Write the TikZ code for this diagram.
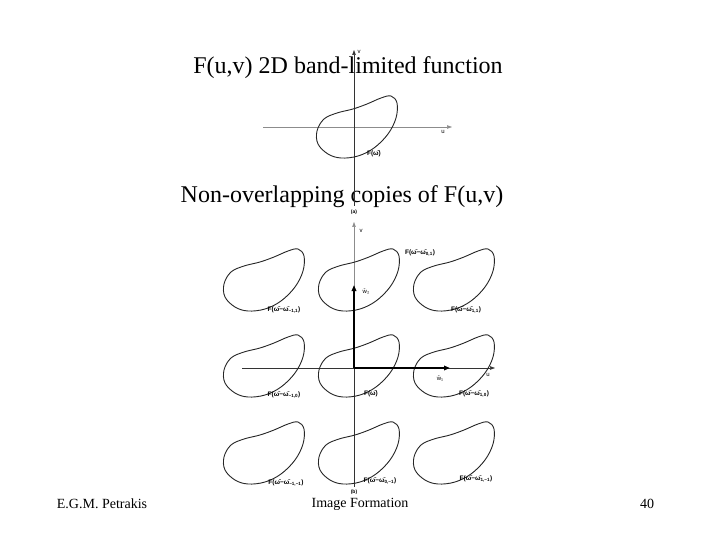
\documentclass[tikz,border=0pt]{standalone}
\usepackage{fontspec}
\setmainfont{Liberation Serif}
\setsansfont{Liberation Sans}
\usetikzlibrary{arrows.meta,positioning}
\tikzset{
  axis/.style={-{Triangle[length=5pt,width=3.5pt]},line width=0.6pt,#1},
  axis/.default={black!80},
  lattvec/.style={-{Triangle[length=6pt,width=4.5pt]},line width=2pt,black},
  slidetext/.style={font=\fontsize{24}{28}\selectfont,inner sep=0pt},
  footer/.style={font=\fontsize{14}{16}\selectfont,inner sep=0pt},
  speclabel/.style={font=\sffamily\bfseries\fontsize{6.5}{7}\selectfont,inner sep=0.5pt},
  axlabel/.style={font=\sffamily\fontsize{6}{7}\selectfont,inner sep=0.5pt},
  figcap/.style={font=\sffamily\bfseries\fontsize{5}{6}\selectfont,inner sep=0.3pt},
  spectrum/.pic={
    \draw[line width=0.9pt,black!85] plot[smooth cycle,tension=0.6] coordinates {
      (34,-31) (40,-24) (39,-9) (31,7) (17,21) (1,29) (-16,31) (-29,27)
      (-39,17) (-40,4) (-33,-8) (-20,-14) (-4,-18) (10,-23) (24,-29)};
  }
}

\begin{document}
\begin{tikzpicture}[x=1pt,y=-1pt]
  \useasboundingbox[fill=white] (0,0) rectangle (720,540);
  \node[slidetext] (title) at (348,68) {F(u,v) 2D band-limited function};
  \node[slidetext] (copies) at (342,197) {Non-overlapping copies of F(u,v)};

  \coordinate (oa) at (354,127);
  \coordinate (ula) at (263,127);
  \coordinate (ura) at (452,127);
  \coordinate (vta) at (354,50);
  \coordinate (vba) at (354,206);
  \draw[axis=black!45] (ula) -- (ura);
  \draw[axis] (vba) -- (vta);
  \pic at (357,127) {spectrum};
  \node[axlabel] (ua) at (443,132) {u};
  \node[axlabel] (va) at (359,52) {v};
  \node[speclabel] (fa) at (374,154) {F(ω̄)};
  \node[figcap] (capa) at (354,212) {(a)};

  \coordinate (ob) at (354,368);
  \coordinate (ulb) at (242,368);
  \coordinate (urb) at (495,368);
  \coordinate (vtb) at (354,222);
  \coordinate (vbb) at (354,487);
  \coordinate (w1) at (450,368);
  \coordinate (w2) at (354,285);
  \draw[axis=black!45] (ob) -- (vtb);
  \draw[black!80,line width=0.6pt] (ob) -- (vbb);
  \draw[axis] (ulb) -- (urb);
  \pic at (264,280) {spectrum};
  \pic at (359,280) {spectrum};
  \pic at (454,280) {spectrum};
  \pic at (264,366) {spectrum};
  \pic at (359,366) {spectrum};
  \pic at (454,366) {spectrum};
  \pic at (264,453) {spectrum};
  \pic at (359,453) {spectrum};
  \pic at (454,453) {spectrum};
  \draw[lattvec] (ob) -- (w2);
  \draw[lattvec] (ob) -- (w1);
  \node[axlabel] (ub) at (488,375) {u};
  \node[axlabel] (vb) at (361,231) {v};
  \node[axlabel] (w1l) at (440,378) {w̄₁};
  \node[axlabel] (w2l) at (366,291) {w̄₂};
  \node[speclabel] (f01) at (420,253) {F(ω̄−ω̄\textsubscript{0,1})};
  \node[speclabel] (fm11) at (284,310) {F(ω̄−ω̄\textsubscript{−1,1})};
  \node[speclabel] (f11) at (466,310) {F(ω̄−ω̄\textsubscript{1,1})};
  \node[speclabel] (fm10) at (284,395) {F(ω̄−ω̄\textsubscript{−1,0})};
  \node[speclabel] (f00) at (371,394) {F(ω̄)};
  \node[speclabel] (f10) at (474,394) {F(ω̄−ω̄\textsubscript{1,0})};
  \node[speclabel] (fm1m1) at (286,483) {F(ω̄−ω̄\textsubscript{−1,−1})};
  \node[speclabel] (f0m1) at (380,481) {F(ω̄−ω̄\textsubscript{0,−1})};
  \node[speclabel] (f1m1) at (476,479) {F(ω̄−ω̄\textsubscript{1,−1})};
  \node[figcap] (capb) at (354,492) {(b)};

  \node[footer] (author) at (102,504) {E.G.M. Petrakis};
  \node[footer] (topic) at (360,504) {Image Formation};
  \node[footer] (page) at (647,504) {40};
\end{tikzpicture}
\end{document}
